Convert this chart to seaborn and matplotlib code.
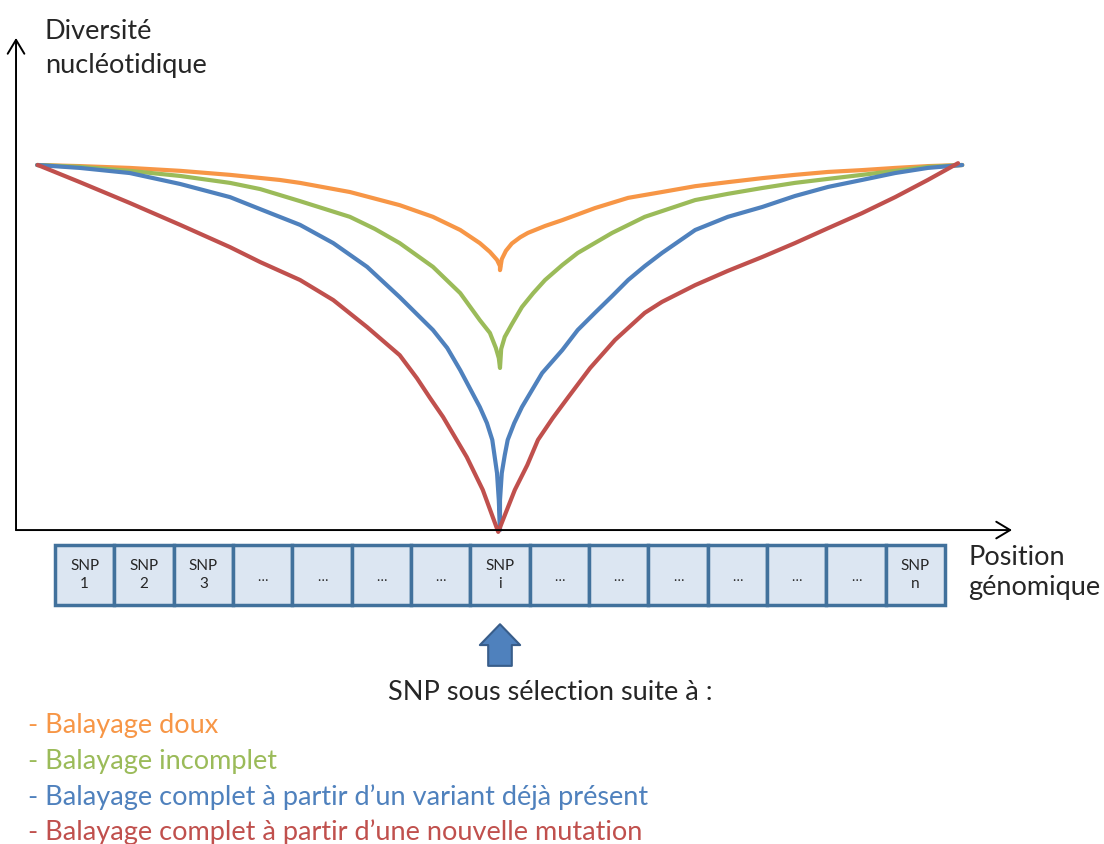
import pandas as pd
import matplotlib.pyplot as plt
import seaborn as sns

# genomic position in SNP slots (slot k is centred on k), diversity with plateau = 1
doux_x = [0.20, 0.92, 1.76, 2.61, 3.45, 4.29, 4.63, 5.47, 6.31, 6.87, 7.33, 7.66, 7.83, 7.95, 8.00, 8.00,
          8.03, 8.10, 8.20, 8.34, 8.47, 8.76, 9.05, 9.60, 10.16, 10.73, 11.29, 11.84, 12.42, 12.97,
          13.53, 14.10, 14.66, 15.21, 15.79]
doux_y = [1.000, 0.997, 0.992, 0.984, 0.973, 0.959, 0.951, 0.926, 0.890, 0.858, 0.822, 0.786, 0.762, 0.740, 0.723, 0.712,
          0.742, 0.765, 0.785, 0.802, 0.814, 0.833, 0.849, 0.882, 0.910, 0.926, 0.942, 0.953, 0.964, 0.973,
          0.981, 0.986, 0.992, 0.997, 1.000]

incomplet_x = [0.20, 0.92, 1.76, 2.61, 3.45, 3.96, 4.63, 5.47, 5.89, 6.31, 6.87, 7.33, 7.66, 7.83, 7.93, 7.98, 8.00,
               8.02, 8.08, 8.20, 8.37, 8.56, 8.76, 9.05, 9.31, 9.89, 10.44, 11.29, 11.84, 12.42, 12.97,
               13.53, 14.10, 14.66, 15.21, 15.79]
incomplet_y = [1.000, 0.995, 0.984, 0.970, 0.951, 0.934, 0.901, 0.858, 0.825, 0.786, 0.721, 0.649, 0.575, 0.540, 0.499, 0.471, 0.444,
               0.496, 0.529, 0.564, 0.611, 0.649, 0.685, 0.726, 0.759, 0.814, 0.858, 0.904, 0.921, 0.937, 0.951,
               0.962, 0.973, 0.984, 0.995, 1.000]

ancien_x = [0.20, 0.92, 1.76, 2.61, 3.45, 3.96, 4.63, 5.19, 5.76, 6.31, 6.87, 7.11, 7.33, 7.49, 7.66, 7.78, 7.87, 7.95, 7.98, 8.00,
            8.00, 8.03, 8.08, 8.13, 8.24, 8.37, 8.71, 9.05, 9.31, 9.60, 9.89, 10.16, 10.44, 10.73, 11.29, 11.84,
            12.42, 12.97, 13.53, 14.10, 14.66, 15.21, 15.79]
ancien_y = [1.000, 0.992, 0.978, 0.948, 0.912, 0.879, 0.836, 0.786, 0.721, 0.638, 0.548, 0.499, 0.438, 0.389, 0.337, 0.293, 0.247, 0.156, 0.082, 0.000,
            0.082, 0.156, 0.205, 0.247, 0.293, 0.337, 0.430, 0.493, 0.548, 0.595, 0.641, 0.685, 0.723, 0.759, 0.822, 0.858,
            0.885, 0.915, 0.940, 0.959, 0.978, 0.992, 1.000]

nouveau_x = [0.21, 0.92, 1.76, 2.61, 3.45, 3.96, 4.63, 5.19, 5.76, 6.31, 6.60, 6.82, 7.04, 7.24, 7.44, 7.71, 7.97,
             8.25, 8.46, 8.64, 8.89, 9.15, 9.52, 9.94, 10.44, 10.73, 11.29, 11.84, 12.42, 12.97, 13.53, 14.10,
             14.66, 15.21, 15.72]
nouveau_y = [1.000, 0.953, 0.896, 0.836, 0.775, 0.734, 0.685, 0.630, 0.556, 0.479, 0.416, 0.362, 0.310, 0.255, 0.200, 0.110, -0.005,
             0.110, 0.178, 0.247, 0.307, 0.364, 0.444, 0.521, 0.595, 0.625, 0.671, 0.710, 0.748, 0.786, 0.827, 0.868,
             0.912, 0.959, 1.005]

scenarios = ["Balayage doux", "Balayage incomplet",
             "Balayage complet à partir d’un variant déjà présent",
             "Balayage complet à partir d’une nouvelle mutation"]
scenario_colors = ["#F79646", "#9BBB59", "#4F81BD", "#C0504D"]

snp_slots = list(range(1, 16))
snp_labels = ["SNP\n1", "SNP\n2", "SNP\n3", "…", "…", "…", "…", "SNP\ni",
              "…", "…", "…", "…", "…", "…", "SNP\nn"]
selected_slot = 8

frames = []
for name, xs, ys in zip(scenarios,
                        [doux_x, incomplet_x, ancien_x, nouveau_x],
                        [doux_y, incomplet_y, ancien_y, nouveau_y]):
    frames.append(pd.DataFrame({"position": xs, "diversity": ys, "scenario": name}))
df = pd.concat(frames, ignore_index=True)
palette = dict(zip(scenarios, scenario_colors))

sns.set_theme(style="white")
plt.rcParams["font.family"] = ["Lato", "DejaVu Sans"]

fig = plt.figure(figsize=(11.04, 8.44), dpi=100)
ax = fig.add_axes([0, 0, 1, 1])
ax.set_xlim(-0.427, 18.18)
ax.set_ylim(-0.860, 1.452)
ax.axis("off")

sns.lineplot(data=df, x="position", y="diversity", hue="scenario", palette=palette,
             estimator=None, sort=False, linewidth=3, legend=False, ax=ax)

# hand-drawn style axes with open arrow heads
arrow_kw = dict(arrowstyle="->,head_length=0.5,head_width=0.3", lw=1.4, color="black",
                shrinkA=0, shrinkB=0, mutation_scale=20)
ax.annotate("", xy=(-0.157, 1.348), xytext=(-0.157, 0.0), arrowprops=arrow_kw)
ax.annotate("", xy=(16.63, 0.0), xytext=(-0.157, 0.0), arrowprops=arrow_kw)

ax.text(0.33, 1.345, "Diversité", fontsize=19.5, va="baseline", ha="left")
ax.text(0.33, 1.252, "nucléotidique", fontsize=19.5, va="baseline", ha="left")
ax.text(15.89, -0.096, "Position", fontsize=19.5, va="baseline", ha="left")
ax.text(15.89, -0.178, "génomique", fontsize=19.5, va="baseline", ha="left")

# row of SNP boxes
ax.bar(snp_slots, 0.164, bottom=-0.205, width=1.0, color="#DCE6F2",
       edgecolor="#41719C", linewidth=2.5)
for slot, lab in zip(snp_slots, snp_labels):
    if lab == "…":
        ax.text(slot, -0.128, lab, fontsize=10, ha="center", va="center")
    else:
        ax.text(slot, -0.123, lab, fontsize=11, ha="center", va="center", linespacing=1.4)

# block arrow pointing at the selected SNP
ax.annotate("", xy=(selected_slot, -0.258), xytext=(selected_slot, -0.372),
            arrowprops=dict(arrowstyle="simple,head_width=1.45,head_length=0.75,tail_width=0.85",
                            fc="#4F81BD", ec="#385D8A", lw=1.5, shrinkA=0, shrinkB=0,
                            mutation_scale=20))

ax.text(8.85, -0.466, "SNP sous sélection suite à :", fontsize=19.5,
        ha="center", va="baseline")
for i, (name, col) in enumerate(zip(scenarios, scenario_colors)):
    ax.text(0.04, -0.556 - i * 0.098, "- " + name, fontsize=19.5, color=col,
            ha="left", va="baseline")

fig.savefig("out.png", dpi=100)
